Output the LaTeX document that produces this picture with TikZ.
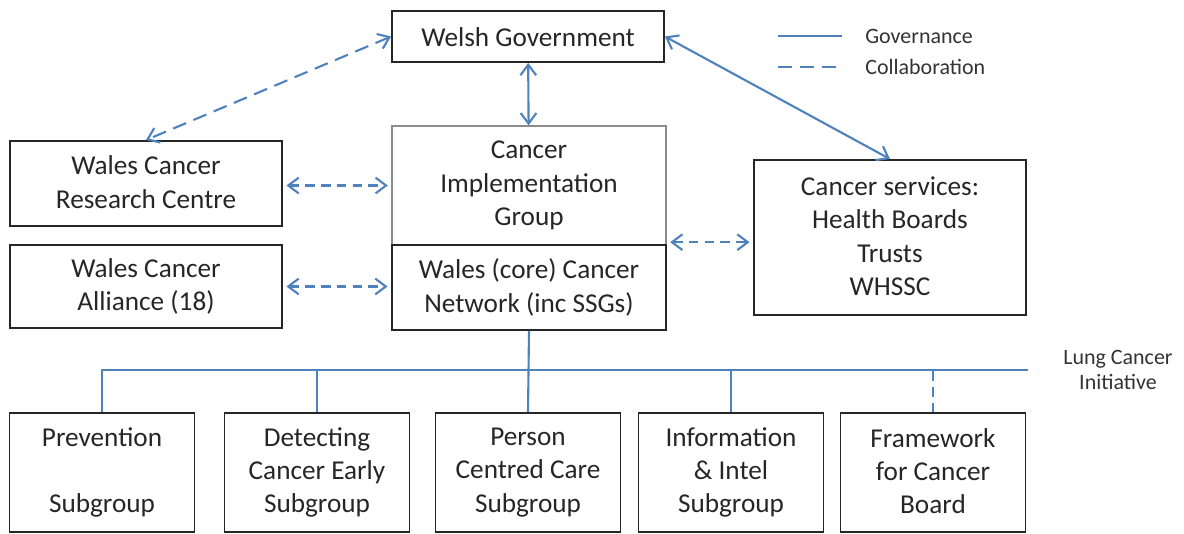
\documentclass[tikz,border=0pt]{standalone}
\usepackage{fontspec}
\setmainfont{Carlito}
\usetikzlibrary{arrows.meta,positioning}
\definecolor{linkblue}{RGB}{79,129,189}
\newcommand\topstrut{\rule{0pt}{17.4pt}}
\newcommand\botstrut{\rule[-1.6pt]{0pt}{1.6pt}}
\newcommand\onetop{\rule{0pt}{15.3pt}}
\newcommand\onebot{\rule[-3.7pt]{0pt}{3.7pt}}

\begin{document}
\begin{tikzpicture}[x=0.02cm,y=-0.02cm,inner sep=0pt,
	plain/.style={draw=black!85,line width=1.1pt,align=center,text=black!85,
		font=\fontsize{15.5}{19}\selectfont},
	box/.style={plain,execute at begin node=\topstrut,execute at end node=\botstrut},
	onebox/.style={plain,execute at begin node=\onetop,execute at end node=\onebot},
	cig/.style={box,draw=black!45,line width=0.8pt},
	sub/.style={box,minimum width=3.7cm,minimum height=2.38cm},
	legend/.style={text=black!80,font=\fontsize{12.5}{14.2}\selectfont},
	gov/.style={draw=linkblue,line width=1.2pt},
	collab/.style={gov,dash pattern=on 5.5pt off 3.5pt},
	longcollab/.style={gov,dash pattern=on 8pt off 4.5pt},
	both/.style={{Straight Barb[length=6pt,width=9pt]}-{Straight Barb[length=6pt,width=9pt]}}]

\useasboundingbox (0,0) rectangle (1184,534);

\node[onebox,minimum width=5.44cm,minimum height=1.02cm] (welsh) at (528,36.5) {Welsh Government};
\node[cig,minimum width=5.48cm,minimum height=2.38cm] (implement) at (529,185.5) {Cancer\\Implementation\\Group};
\node[box,minimum width=5.48cm,minimum height=1.7cm] (network) at (529,287.5) {Wales (core) Cancer\\Network (inc SSGs)};
\node[box,minimum width=5.44cm,minimum height=1.7cm] (research) at (146,183.5) {Wales Cancer\\Research Centre};
\node[box,minimum width=5.44cm,minimum height=1.66cm] (alliance) at (146,286.5) {Wales Cancer\\Alliance (18)};
\node[box,minimum width=5.44cm,minimum height=3.1cm] (services) at (890,237.5) {Cancer services:\\Health Boards\\Trusts\\WHSSC};

\node[sub] (prevention) at (102,472.5) {Prevention\\~\\Subgroup};
\node[sub] (detecting) at (317,472.5) {Detecting\\Cancer Early\\Subgroup};
\node[sub] (person) at (528,472.5) {Person\\Centred Care\\Subgroup};
\node[sub] (information) at (731,472.5) {Information\\\& Intel\\Subgroup};
\node[sub] (framework) at (933,472.5) {Framework\\for Cancer\\Board};

% legend
\coordinate (govA) at (778,36);
\coordinate (govB) at (842,36);
\coordinate (colA) at (778,67);
\coordinate (colB) at (842,67);
\node[legend,anchor=west,right=0.46cm of govB] (govtext) {Governance};
\node[legend,anchor=west,right=0.46cm of colB] (coltext) {Collaboration};
\draw[gov] (govA) -- (govB);
\draw[longcollab] (colA) -- (colB);

% links
\draw[gov,both] (welsh) -- (implement);
\draw[gov,both] (welsh.east) -- (services.north);
\draw[longcollab,both] (welsh.west) -- (research.north);
\draw[collab,both,shorten <=2pt,shorten >=2pt] (research.east |- implement) -- (implement.west);
\draw[collab,both,shorten <=2pt,shorten >=2pt] (alliance.east) -- (alliance.east -| network.west);
\draw[collab,both,shorten <=2pt,shorten >=2pt] ([yshift=2pt]implement.south east) -- ([yshift=2pt]implement.south east -| services.west);

% subgroups
\node[legend,align=center] (lung) at (1118,369.5) {Lung Cancer\\Initiative};
\coordinate (busend) at (1028,370);
\draw[gov] (network.south) -- (person.north);
\draw[gov] (prevention.north) -- (prevention.north |- busend) -- (busend);
\draw[gov] (detecting.north) -- (detecting.north |- busend);
\draw[gov] (information.north) -- (information.north |- busend);
\draw[gov,dash pattern=on 6pt off 3.5pt] (framework.north |- busend) -- (framework.north);

\end{tikzpicture}
\end{document}
